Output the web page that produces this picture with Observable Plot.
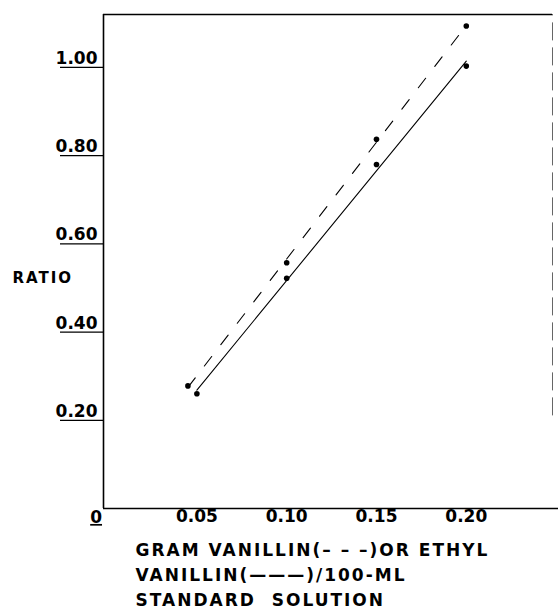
<!DOCTYPE html>
<html>
<head>
<meta charset="utf-8">
<script src="https://cdn.jsdelivr.net/npm/d3@7"></script>
<script src="https://cdn.jsdelivr.net/npm/@observablehq/plot@0.6"></script>
<style>
  html, body { margin: 0; padding: 0; background: white; }
</style>
</head>
<body>
<div id="chart"></div>
<script>
// Data
const vanillinX = [0.045, 0.10, 0.15, 0.20];           // dashed series
const vanillinRatio = [0.278, 0.557, 0.837, 1.094];
const ethylX = [0.05, 0.10, 0.15, 0.20];               // solid series
const ethylRatio = [0.260, 0.522, 0.780, 1.003];
const xTicks = [0.05, 0.10, 0.15, 0.20];
const yTicks = [0.20, 0.40, 0.60, 0.80, 1.00];
const xDomain = [-0.002, 0.248];
const yDomain = [0, 1.12];
const yLabel = "RATIO";
const xLabelLines = ["GRAM VANILLIN(– – –)OR ETHYL", "VANILLIN(———)/100-ML", "STANDARD  SOLUTION"];
const zeroLabel = [{x: 0, y: 0, text: "0"}];

const vanillin = vanillinX.map((x, i) => ({x, y: vanillinRatio[i]}));
const ethyl = ethylX.map((x, i) => ({x, y: ethylRatio[i]}));

const fmt = d3.format(".2f");

const chart = Plot.plot({
  width: 558,
  height: 615,
  marginLeft: 103,
  marginRight: 6,
  marginTop: 14,
  marginBottom: 107,
  x: {domain: xDomain},
  y: {domain: yDomain},
  style: {fontFamily: "DejaVu Sans", fontWeight: "bold", color: "black", background: "white", overflow: "visible"},
  marks: [
    Plot.axisX({ticks: xTicks, tickSize: 0, tickPadding: 1, tickFormat: fmt, fontSize: 17, fontWeight: "bold", label: null}),
    // y tick lines (underlines) and their labels sitting above them
    Plot.axisY({ticks: yTicks, tickSize: 43, tickFormat: () => "", label: null, strokeWidth: 1.3}),
    Plot.axisY({ticks: yTicks, tickSize: 0, tickPadding: 6, dy: -9, tickFormat: fmt, fontSize: 17, fontWeight: "bold", label: null}),
    // frame lines
    Plot.ruleX([xDomain[0]], {y1: yDomain[0], y2: yDomain[1], stroke: "black", strokeWidth: 1.6}),
    Plot.ruleY([yDomain[1]], {x1: xDomain[0], x2: xDomain[1], stroke: "black", strokeWidth: 1.6}),
    Plot.ruleY([yDomain[0]], {x1: xDomain[0], x2: 0.252, stroke: "black", strokeWidth: 1.6}),
    Plot.ruleX([xDomain[1]], {y1: 0.21, y2: yDomain[1], stroke: "#666", strokeWidth: 1, strokeDasharray: "18,7"}),
    // series
    Plot.linearRegressionY(vanillin, {x: "x", y: "y", stroke: "black", strokeWidth: 1.1, strokeDasharray: "12,15", ci: 0}),
    Plot.linearRegressionY(ethyl, {x: "x", y: "y", stroke: "black", strokeWidth: 1.1, ci: 0}),
    Plot.dot(vanillin, {x: "x", y: "y", r: 2.8, fill: "black"}),
    Plot.dot(ethyl, {x: "x", y: "y", r: 2.8, fill: "black"}),
    // labels
    Plot.text(zeroLabel, {x: "x", y: "y", text: "text", dx: -11, dy: 9, fontSize: 17, fontWeight: "bold"}),
    Plot.text([yLabel], {frameAnchor: "left", textAnchor: "start", dx: -91, dy: 17, fontSize: 15, fontWeight: "bold"}),
    Plot.text([xLabelLines[0]], {frameAnchor: "bottom-left", textAnchor: "start", dx: 32, dy: 47, fontSize: 17, fontWeight: "bold"}),
    Plot.text([xLabelLines[1]], {frameAnchor: "bottom-left", textAnchor: "start", dx: 32, dy: 72, fontSize: 17, fontWeight: "bold"}),
    Plot.text([xLabelLines[2]], {frameAnchor: "bottom-left", textAnchor: "start", dx: 32, dy: 97, fontSize: 17, fontWeight: "bold"})
  ]
});

const sel = d3.select(chart);
sel.selectAll("text").each(function() {
  const t = this.textContent;
  if (t === "0") d3.select(this).style("text-decoration", "underline");
  if (xLabelLines.includes(t)) d3.select(this).style("letter-spacing", "2px");
  if (t === yLabel) d3.select(this).style("letter-spacing", "2px");
});

document.getElementById("chart").appendChild(chart);
</script>
</body>
</html>
